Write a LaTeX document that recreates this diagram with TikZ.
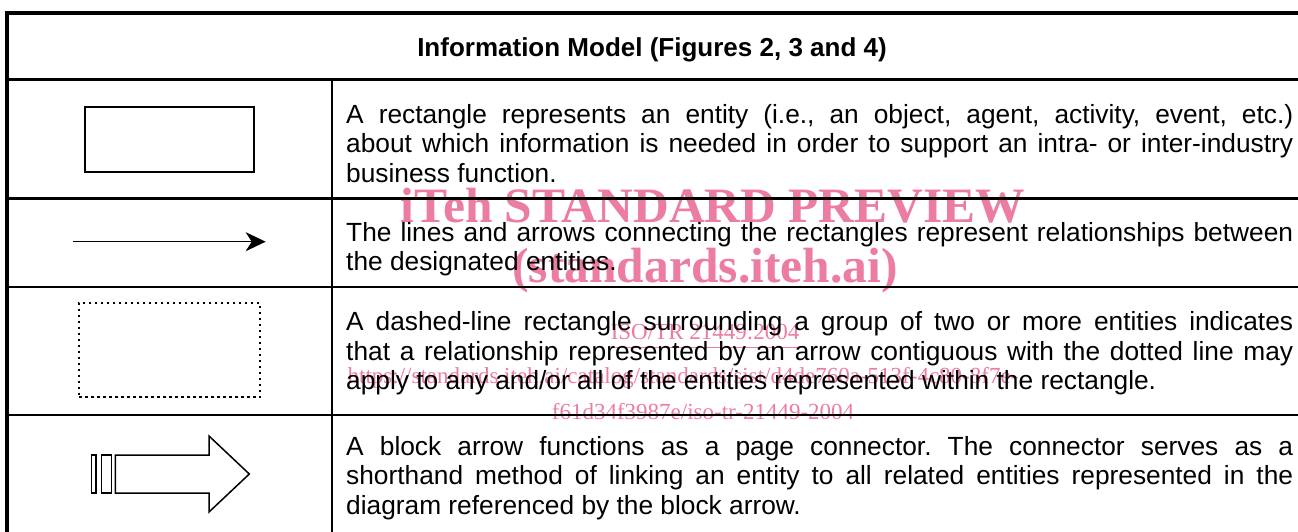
\documentclass[tikz,border=0pt]{standalone}
\usepackage{fontspec}
\setmainfont{Liberation Sans}
\newfontfamily\wmserif{Liberation Serif}
\usetikzlibrary{arrows.meta}
\definecolor{wmpink}{RGB}{236,124,162}
\tikzset{
  outer/.style={line width=3.4pt},
  rowline/.style={line width=2.4pt},
  colline/.style={line width=1.7pt},
  symline/.style={line width=1.5pt},
  celltext/.style={anchor=north west, inner sep=0pt, text width=947pt, align=left,
    font=\fontsize{26.3}{29.5}\selectfont},
  headtext/.style={anchor=base, inner sep=0pt, font=\bfseries\fontsize{26}{29}\selectfont},
  wmbig/.style={anchor=base, inner sep=0pt, text=wmpink,
    font=\wmserif\bfseries\fontsize{49.5}{50}\selectfont},
  wmsmall/.style={anchor=base, inner sep=0pt, text=wmpink,
    font=\wmserif\fontsize{23}{24}\selectfont},
}
% font's own interword glue (align=left fixes it otherwise)
\newcommand\fontspaces{\spaceskip=0pt\xspaceskip=0pt\relax}
% one justified line of a description cell
\newcommand\jline[1]{\makebox[947pt][s]{\fontspaces\strut #1}}
\begin{document}
\frenchspacing
\begin{tikzpicture}[x=1pt,y=-1pt]
\useasboundingbox (0,0) rectangle (1298,531);
\fill[white] (0,0) rectangle (1298,531);

% watermark lettering, underneath the table
\node[wmbig] (wm1) at (713,222) {iTeh STANDARD PREVIEW};
\node[wmbig] (wm2) at (705,282) {(standards.iteh.ai)};
\node[wmsmall] (wm3) at (705,339) {ISO/TR 21449:2004};
\draw[wmpink, line width=1pt] (wm3.base west) ++(0,8) coordinate (ul1) -- (wm3.base east |- ul1);
\node[wmsmall] (wm4) at (683,383) {https://standards.iteh.ai/catalog/standards/sist/d4de760a-513f-4c80-8f7e-};
\node[wmsmall] (wm5) at (703,419) {f61d34f3987e/iso-tr-21449-2004};

% table rules
\draw[outer] (7,13) -- (1300,13);
\draw[outer] (7,11.3) -- (7,533);
\draw[outer] (7,79.5) -- (1300,79.5);
\draw[rowline] (7,198.5) -- (1300,198.5);
\draw[rowline] (7,287) -- (1300,287);
\draw[rowline] (7,415) -- (1300,415);
\draw[colline] (332,79.5) -- (332,533);

% header
\node[headtext] (head) at (652,56) {Information Model (Figures 2, 3 and 4)};

% symbol column
\node[draw, symline, minimum width=169pt, minimum height=65pt, inner sep=0pt] (entity) at (169.5,139.5) {};

\coordinate (relfrom) at (72.7,241.7);
\coordinate (relto) at (265.7,241.7);
\draw[symline, -{Stealth[length=20pt,width=19pt,inset=6pt]}] (relfrom) -- (relto);

\node[draw, line width=2.2pt, dash pattern=on 2.2pt off 3.8pt, minimum width=180.7pt,
      minimum height=94.6pt, inner sep=0pt] (group) at (169.65,350) {};

\draw[symline, line join=miter] (115.3,455) -- (209,455) -- (209,436) -- (249.3,474)
  -- (209,512) -- (209,493) -- (115.3,493) -- cycle;
\draw[symline] (91.7,455) rectangle (96,493);
\draw[symline] (101.7,455) rectangle (111.7,493);

% description column
\node[celltext] (d1) at (346,102.35) {\fontspaces
\jline{A rectangle represents an entity (i.e., an object, agent, activity, event, etc.)}\\
\jline{about which information is needed in order to support an intra- or inter-industry}\\
\strut business function.};
\node[celltext] (d2) at (346,220.35) {\fontspaces
\jline{The lines and arrows connecting the rectangles represent relationships between}\\
\strut the designated entities.};
\node[celltext] (d3) at (346,310) {\fontspaces
\jline{A dashed-line rectangle surrounding a group of two or more entities indicates}\\
\jline{that a relationship represented by an arrow contiguous with the dotted line may}\\
\strut apply to any and/or all of the entities represented within the rectangle.};
\node[celltext] (d4) at (346,434.35) {\fontspaces
\jline{A block arrow functions as a page connector. The connector serves as a}\\
\jline{shorthand method of linking an entity to all related entities represented in the}\\
\strut diagram referenced by the block arrow.};
\end{tikzpicture}
\end{document}
